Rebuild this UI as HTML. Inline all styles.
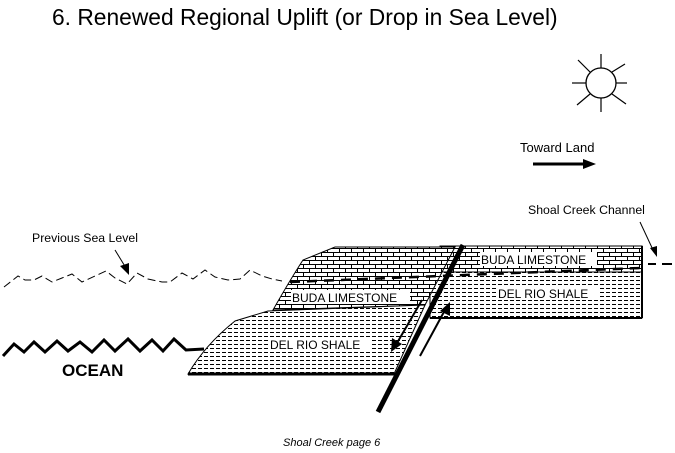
<!DOCTYPE html>
<html><head><style>html,body{margin:0;padding:0;background:#fff}svg{display:block}</style></head><body>
<svg width="675" height="453" viewBox="0 0 675 453" xmlns="http://www.w3.org/2000/svg" font-family="Liberation Sans, Arial, sans-serif">
<defs>
<pattern id="brick" width="12" height="8" patternUnits="userSpaceOnUse">
<rect width="12" height="8" fill="#fff"/>
<path d="M0 0.5H12M0 4.5H12M3.5 0.5V4.5M9.5 4.5V8.5" stroke="#000" stroke-width="1" fill="none"/>
</pattern>
<pattern id="shale" width="6" height="4" patternUnits="userSpaceOnUse">
<rect width="6" height="4" fill="#fff"/>
<path d="M0 0.5H4" stroke="#000" stroke-width="1"/>
</pattern>
</defs>
<text x="52" y="25" font-size="22.8">6. Renewed Regional Uplift (or Drop in Sea Level)</text>
<circle cx="601" cy="83" r="15" fill="none" stroke="#000" stroke-width="1.3"/>
<g stroke="#000" stroke-width="1.2">
<line x1="601" y1="68" x2="601" y2="54"/><line x1="601" y1="98" x2="601" y2="112"/>
<line x1="586" y1="83" x2="572" y2="83"/><line x1="616" y1="83" x2="627" y2="83"/>
<line x1="590" y1="72" x2="578" y2="60"/><line x1="612" y1="72" x2="625" y2="64"/>
<line x1="590" y1="94" x2="577" y2="105"/><line x1="612" y1="94" x2="626" y2="104"/>
</g>
<text x="520" y="152" font-size="13">Toward Land</text>
<line x1="533" y1="164" x2="585" y2="164" stroke="#000" stroke-width="3"/>
<polygon points="583,159 596,164 583,169" fill="#000"/>
<text x="528" y="214" font-size="12.3">Shoal Creek Channel</text>
<line x1="640" y1="222" x2="654" y2="252" stroke="#000"/>
<polygon points="650,248 657,257 657,246" fill="#000"/>
<text x="32" y="242" font-size="12.3">Previous Sea Level</text>
<line x1="115" y1="250" x2="126" y2="268" stroke="#000"/>
<polygon points="120,266 129,275 129,263" fill="#000"/>
<polyline points="4,287 18,276 25,280 34,280 42,276 52,282 62,278 72,274 82,282 95,276 106,271 115,278 127,284 137,273 148,279 162,282 170,282 182,273 193,279 205,270 215,277 228,280 240,279 250,270 262,276 272,279 282,281" fill="none" stroke="#000" stroke-dasharray="8,4"/>
<polyline points="3,356 14,344 24,352 34,342 45,352 57,341 68,351 80,342 92,352 104,340 115,351 128,339 140,351 152,340 163,351 174,339 186,350 204,349" fill="none" stroke="#000" stroke-width="3"/>
<text x="62" y="376" font-size="17" font-weight="bold">OCEAN</text>
<rect x="440" y="246" width="202" height="26" fill="url(#brick)" stroke="#000"/>
<rect x="430" y="272" width="212" height="46" fill="url(#shale)" stroke="#000"/>
<line x1="430" y1="318" x2="642" y2="318" stroke="#000" stroke-width="2"/>
<line x1="642" y1="246" x2="642" y2="318" stroke="#000" stroke-width="2"/>
<path d="M335,247 L455,247 L425,305 L273,310 Q290,280 303,260 Z" fill="url(#brick)" stroke="#000"/>
<path d="M268,311 L425,305 L394,374 L188,374 Q205,345 235,321 Z" fill="url(#shale)" stroke="#000"/>
<line x1="188" y1="374" x2="397" y2="374" stroke="#000" stroke-width="3"/>
<polyline points="290,282 640,268" fill="none" stroke="#000" stroke-width="2.5" stroke-dasharray="10,7"/>
<line x1="648" y1="264" x2="656" y2="264" stroke="#000" stroke-width="2"/>
<line x1="662" y1="264" x2="672" y2="264" stroke="#000" stroke-width="2"/>
<rect x="291" y="290" width="119" height="14" fill="#fff"/>
<text x="292" y="302" font-size="12">BUDA LIMESTONE</text>
<rect x="269" y="337" width="103" height="14" fill="#fff"/>
<text x="270" y="349" font-size="12">DEL RIO SHALE</text>
<rect x="480" y="252" width="117" height="14" fill="#fff"/>
<text x="481" y="264" font-size="12">BUDA LIMESTONE</text>
<rect x="497" y="286" width="103" height="14" fill="#fff"/>
<text x="498" y="298" font-size="12">DEL RIO SHALE</text>
<line x1="463" y1="245" x2="378" y2="412" stroke="#000" stroke-width="5"/>
<line x1="422" y1="300" x2="397" y2="343" stroke="#000" stroke-width="2"/>
<polygon points="391,352 392,338 402,344" fill="#000"/>
<line x1="420" y1="356" x2="445" y2="310" stroke="#000" stroke-width="2"/>
<polygon points="450,302 450,316 440,311" fill="#000"/>
<text x="283" y="446" font-size="11" font-style="italic">Shoal Creek page 6</text>
</svg>
</body></html>
